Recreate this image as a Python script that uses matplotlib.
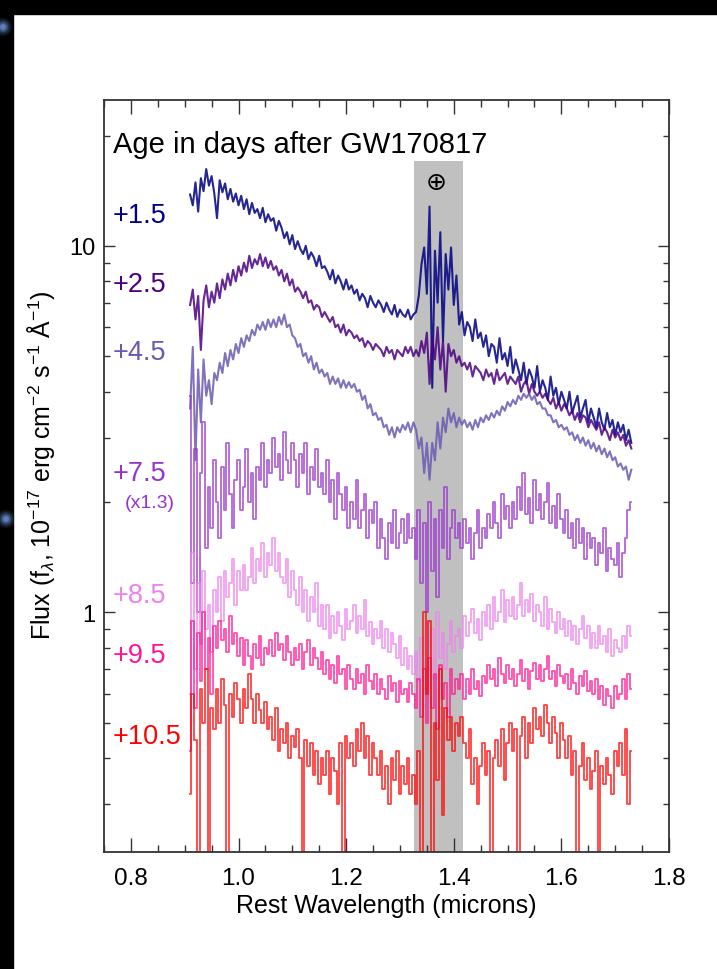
import numpy as np
import matplotlib
matplotlib.use('Agg')
from matplotlib import pyplot as plt
from matplotlib.ticker import MultipleLocator, FixedLocator, LogLocator, NullFormatter, FuncFormatter
from matplotlib.patches import Rectangle, Ellipse

plt.rcParams['font.family'] = ['Liberation Sans', 'DejaVu Sans']
plt.rcParams['mathtext.fontset'] = 'custom'
plt.rcParams['mathtext.rm'] = 'Liberation Sans'
plt.rcParams['mathtext.it'] = 'Liberation Sans:italic'
plt.rcParams['mathtext.sf'] = 'Liberation Sans'

# wavelength grid (microns), 0.005 bins from 0.91 to 1.73
wave = np.round(np.arange(0.910, 1.7301, 0.005), 3)

# flux, 1e-17 erg/cm2/s/A (10 bins per row)
flux_1p5 = [13.8, 12.9, 14.9, 12.4, 15.3, 14.1, 16.2, 14.6, 15.5, 13.9,
            11.9, 15.1, 14.0, 14.8, 13.4, 14.3, 13.2, 13.9, 12.9, 13.7,
            12.6, 13.4, 12.2, 13.1, 12.3, 12.6, 11.9, 12.7, 11.6, 12.2,
            11.7, 11.9, 11.0, 11.7, 11.2, 10.5, 10.9, 10.1, 10.7, 9.8,
            10.3, 9.8, 9.5, 10.0, 9.2, 9.6, 9.3, 8.8, 9.4, 8.7,
            8.8, 8.5, 8.1, 8.6, 7.9, 8.3, 8.0, 7.6, 8.1, 7.6,
            7.8, 7.4, 7.6, 7.1, 7.4, 7.2, 6.8, 7.3, 7.0, 6.8,
            7.1, 6.9, 6.6, 7.0, 6.7, 6.5, 6.9, 6.4, 6.7, 6.5,
            6.4, 6.7, 6.3, 6.5, 6.6, 7.3, 8.9, 9.9, 7.4, 12.8,
            4.1, 9.7, 7.0, 10.9, 5.5, 9.5, 7.6, 9.9, 6.9, 8.3,
            6.1, 6.6, 5.7, 6.2, 6.0, 5.5, 6.3, 5.6, 5.8, 5.3,
            5.7, 5.0, 5.4, 5.3, 4.8, 5.6, 4.9, 5.1, 4.7, 5.3,
            4.5, 4.9, 4.6, 4.3, 4.8, 4.2, 4.6, 4.4, 4.1, 4.7,
            4.0, 4.3, 4.1, 3.8, 4.4, 3.9, 4.1, 3.7, 4.0, 3.8,
            3.6, 4.0, 3.5, 3.7, 3.9, 3.4, 3.6, 3.8, 3.3, 3.6,
            3.4, 3.2, 3.6, 3.3, 3.15, 3.5, 3.2, 3.35, 3.05, 3.3,
            3.1, 3.25, 2.95, 3.15, 2.9]

flux_2p5 = [6.9, 7.6, 6.3, 7.3, 5.2, 7.1, 7.8, 6.8, 7.5, 7.0,
            7.9, 7.2, 8.1, 7.6, 8.4, 7.8, 8.6, 8.0, 8.8, 8.3,
            9.0, 8.5, 9.4, 8.7, 9.2, 8.9, 9.5, 8.8, 9.3, 8.7,
            9.1, 8.6, 8.8, 8.3, 8.6, 8.0, 8.4, 7.8, 8.1, 7.5,
            7.7, 7.5, 7.2, 7.5, 7.0, 7.1, 6.7, 6.9, 6.8, 6.4,
            6.6, 6.4, 6.2, 6.4, 6.0, 6.1, 5.8, 6.1, 5.7, 5.9,
            5.8, 5.6, 5.7, 5.5, 5.6, 5.3, 5.5, 5.4, 5.2, 5.4,
            5.3, 5.2, 5.0, 5.3, 5.1, 5.2, 4.9, 5.2, 5.1, 5.0,
            5.3, 5.1, 5.3, 5.0, 5.2, 5.0, 5.5, 5.1, 5.8, 4.2,
            5.6, 4.9, 6.0, 4.6, 5.5, 4.0, 5.4, 5.0, 5.2, 4.8,
            5.0, 4.7, 4.8, 4.6, 4.8, 4.4, 4.7, 4.6, 4.5, 4.3,
            4.6, 4.4, 4.5, 4.2, 4.6, 4.3, 4.4, 4.5, 4.2, 4.4,
            4.3, 4.2, 4.4, 4.0, 4.2, 4.3, 3.95, 4.2, 4.0, 3.9,
            4.0, 3.85, 3.95, 3.8, 3.7, 3.85, 3.6, 3.75, 3.55, 3.7,
            3.6, 3.45, 3.55, 3.35, 3.5, 3.3, 3.45, 3.4, 3.2, 3.35,
            3.25, 3.15, 3.3, 3.05, 3.2, 3.1, 2.95, 3.15, 3.0, 3.1,
            2.95, 3.05, 2.85, 2.95, 2.8]

flux_4p5 = [3.6, 5.3, 2.6, 4.6, 3.3, 4.9, 3.9, 4.3, 3.7, 4.5,
            4.3, 4.8, 4.5, 5.1, 4.7, 5.2, 4.9, 5.4, 5.1, 5.6,
            5.3, 5.7, 5.5, 5.9, 5.7, 6.1, 5.9, 6.2, 5.9, 6.3,
            6.0, 6.3, 6.0, 6.4, 6.1, 6.5, 6.0, 6.1, 5.7, 5.6,
            5.3, 5.4, 5.0, 5.1, 4.8, 5.0, 4.6, 4.8, 4.5, 4.6,
            4.4, 4.5, 4.2, 4.4, 4.2, 4.35, 4.1, 4.3, 4.1, 4.25,
            4.1, 4.2, 4.0, 4.05, 3.8, 3.9, 3.6, 3.7, 3.45, 3.5,
            3.35, 3.4, 3.2, 3.25, 3.05, 3.2, 3.0, 3.2, 3.1, 3.25,
            3.15, 3.3, 3.1, 3.3, 3.15, 2.8, 3.0, 2.4, 2.9, 2.3,
            2.9, 2.6, 3.3, 2.8, 3.4, 3.1, 3.6, 3.3, 3.5, 3.2,
            3.4, 3.25, 3.35, 3.2, 3.3, 3.15, 3.35, 3.2, 3.4, 3.3,
            3.45, 3.35, 3.5, 3.4, 3.55, 3.45, 3.65, 3.55, 3.75, 3.65,
            3.8, 3.7, 3.9, 3.8, 3.95, 3.85, 3.95, 3.8, 3.9, 3.7,
            3.75, 3.6, 3.6, 3.45, 3.45, 3.3, 3.35, 3.2, 3.25, 3.15,
            3.2, 3.05, 3.1, 2.95, 3.05, 2.9, 3.0, 2.85, 2.95, 2.8,
            2.9, 2.75, 2.85, 2.7, 2.8, 2.65, 2.75, 2.6, 2.65, 2.5,
            2.55, 2.45, 2.5, 2.3, 2.45]

# +7.5 d is shown multiplied by 1.3
flux_7p5 = [3.9, 1.2, 2.8, 1.0, 2.4, 3.3, 1.5, 2.2, 1.7, 2.6,
            2.0, 1.6, 2.5, 1.9, 2.9, 2.1, 1.7, 2.3, 2.6, 1.9,
            2.2, 2.8, 2.0, 2.4, 1.8, 2.5, 2.3, 2.9, 2.2, 2.6,
            2.4, 3.0, 2.5, 2.7, 2.3, 3.1, 2.6, 2.4, 2.9, 2.6,
            2.2, 2.7, 2.4, 2.9, 2.1, 2.5, 2.3, 2.8, 2.2, 2.4,
            2.1, 2.6, 2.0, 2.3, 1.8, 2.4, 2.1, 1.9, 2.2, 1.7,
            2.0, 1.8, 2.3, 1.7, 1.9, 2.1, 1.6, 1.9, 1.75, 2.0,
            1.5, 1.8, 1.6, 1.4, 1.75, 1.55, 1.9, 1.5, 1.65, 1.8,
            1.55, 1.85, 1.6, 1.7, 1.4, 1.9, 1.2, 1.75, 1.0, 2.0,
            1.3, 1.8, 1.1, 1.9, 1.5, 2.2, 1.4, 1.7, 1.9, 1.6,
            1.75, 1.5, 1.8, 1.55, 1.7, 1.4, 1.65, 1.9, 1.5, 1.7,
            1.6, 1.85, 1.7, 2.0, 1.75, 1.6, 2.1, 1.8, 1.95, 1.7,
            2.0, 1.8, 2.2, 1.9, 2.4, 1.85, 2.05, 1.75, 2.3, 1.9,
            2.1, 1.8, 2.0, 2.25, 1.75, 1.95, 1.7, 2.1, 1.8, 1.65,
            1.9, 1.6, 1.75, 1.5, 1.8, 1.55, 1.7, 1.4, 1.65, 1.5,
            1.6, 1.35, 1.55, 1.45, 1.7, 1.3, 1.5, 1.4, 1.35, 1.55,
            1.25, 1.45, 1.6, 1.9, 2.0]

flux_8p5 = [0.6, 1.45, 0.7, 1.2, 0.82, 1.3, 0.9, 1.05, 0.78, 1.15,
            1.0, 1.25, 0.95, 1.3, 1.1, 1.2, 1.4, 1.05, 1.3, 1.15,
            1.35, 1.15, 1.25, 1.5, 1.2, 1.4, 1.3, 1.55, 1.25, 1.45,
            1.35, 1.6, 1.3, 1.45, 1.25, 1.2, 1.4, 1.1, 1.3, 1.15,
            1.05, 1.25, 1.0, 1.15, 0.95, 1.1, 1.0, 1.2, 0.92, 1.05,
            0.9, 1.05, 0.85, 0.98, 0.88, 1.0, 0.92, 0.84, 1.02, 0.9,
            0.95, 1.05, 0.88, 0.98, 0.9, 1.08, 0.86, 0.94, 0.82, 0.9,
            0.85, 0.95, 0.8, 0.9, 0.78, 0.88, 0.82, 0.75, 0.86, 0.72,
            0.8, 0.7, 0.76, 0.68, 0.78, 0.65, 0.85, 0.62, 0.95, 0.7,
            0.9, 0.66, 1.0, 0.75, 0.88, 0.7, 0.82, 0.95, 0.78, 0.86,
            0.9, 0.8, 0.98, 0.86, 0.94, 1.02, 0.88, 0.96, 0.84, 1.0,
            0.92, 1.05, 0.9, 1.1, 0.95, 1.0, 1.15, 0.94, 1.08, 0.98,
            1.1, 0.96, 1.05, 1.2, 0.98, 1.08, 1.0, 1.12, 0.95, 1.05,
            1.0, 0.92, 1.1, 0.9, 1.02, 0.94, 0.88, 1.0, 0.9, 0.96,
            0.86, 0.95, 0.84, 0.92, 0.82, 0.9, 0.98, 0.85, 0.92, 0.8,
            0.88, 0.8, 0.92, 0.82, 0.86, 0.78, 0.9, 0.76, 0.84, 0.8,
            0.78, 0.86, 0.8, 0.92, 0.86]

flux_9p5 = [0.42, 0.95, 0.55, 0.88, 0.65, 1.0, 0.7, 0.85, 0.6, 0.92,
            0.8, 0.95, 0.84, 0.9, 0.78, 0.98, 0.82, 0.88, 0.76, 0.85,
            0.72, 0.84, 0.76, 0.7, 0.82, 0.75, 0.86, 0.72, 0.8, 0.77,
            0.84, 0.76, 0.88, 0.79, 0.82, 0.74, 0.86, 0.78, 0.72, 0.8,
            0.74, 0.82, 0.7, 0.78, 0.84, 0.72, 0.8, 0.75, 0.7, 0.78,
            0.68, 0.74, 0.66, 0.72, 0.64, 0.76, 0.68, 0.7, 0.62, 0.72,
            0.66, 0.62, 0.7, 0.64, 0.68, 0.6, 0.72, 0.65, 0.62, 0.68,
            0.6, 0.66, 0.62, 0.58, 0.67, 0.61, 0.64, 0.57, 0.65, 0.6,
            0.62, 0.57, 0.64, 0.6, 0.55, 0.66, 0.52, 0.7, 0.5, 0.75,
            0.55, 0.68, 0.48, 0.72, 0.58, 0.64, 0.52, 0.7, 0.6, 0.66,
            0.62, 0.68, 0.58, 0.66, 0.6, 0.7, 0.62, 0.65, 0.59, 0.67,
            0.64, 0.72, 0.66, 0.7, 0.63, 0.75, 0.68, 0.64, 0.72, 0.66,
            0.7, 0.63, 0.68, 0.74, 0.65, 0.7, 0.62, 0.69, 0.73, 0.66,
            0.72, 0.65, 0.7, 0.76, 0.66, 0.69, 0.63, 0.72, 0.67, 0.64,
            0.68, 0.62, 0.7, 0.64, 0.6, 0.67, 0.63, 0.69, 0.61, 0.65,
            0.6, 0.66, 0.58, 0.63, 0.56, 0.62, 0.59, 0.55, 0.63, 0.58,
            0.6, 0.66, 0.58, 0.68, 0.62]

flux_10p5 = [0.32, 0.6, 0.45, 0.15, 0.62, 0.5, 0.7, 0.15, 0.55, 0.48,
             0.62, 0.5, 0.66, 0.56, 0.15, 0.6, 0.52, 0.64, 0.58, 0.5,
             0.62, 0.55, 0.68, 0.58, 0.5, 0.6, 0.54, 0.5, 0.57, 0.48,
             0.52, 0.45, 0.55, 0.42, 0.48, 0.44, 0.5, 0.4, 0.46, 0.43,
             0.48, 0.4, 0.16, 0.45, 0.38, 0.44, 0.36, 0.42, 0.34, 0.4,
             0.36, 0.42, 0.32, 0.4, 0.37, 0.3, 0.44, 0.15, 0.46, 0.4,
             0.44, 0.38, 0.48, 0.42, 0.5, 0.4, 0.46, 0.36, 0.44, 0.4,
             0.36, 0.42, 0.33, 0.38, 0.3, 0.4, 0.35, 0.42, 0.32, 0.38,
             0.34, 0.4, 0.32, 0.36, 0.3, 0.42, 0.15, 1.0, 0.6, 0.95,
             0.15, 0.5, 0.35, 0.7, 0.28, 0.55, 0.45, 0.52, 0.42, 0.5,
             0.46, 0.52, 0.44, 0.4, 0.48, 0.34, 0.4, 0.3, 0.38, 0.44,
             0.36, 0.42, 0.15, 0.4, 0.45, 0.38, 0.48, 0.35, 0.44, 0.5,
             0.42, 0.48, 0.15, 0.46, 0.52, 0.4, 0.5, 0.44, 0.55, 0.48,
             0.52, 0.46, 0.56, 0.5, 0.44, 0.52, 0.47, 0.4, 0.5, 0.45,
             0.4, 0.46, 0.36, 0.42, 0.15, 0.38, 0.44, 0.35, 0.4, 0.33,
             0.37, 0.42, 0.16, 0.38, 0.34, 0.4, 0.36, 0.32, 0.42, 0.38,
             0.44, 0.36, 0.48, 0.3, 0.42]

epochs = ['+1.5', '+2.5', '+4.5', '+7.5', '+8.5', '+9.5', '+10.5']
colors = ['navy', 'indigo', '#6a5ab0', 'darkorchid', 'violet', 'deeppink', 'red']
spectra = [flux_1p5, flux_2p5, flux_4p5, flux_7p5, flux_8p5, flux_9p5, flux_10p5]
label_y = [0.838, 0.746, 0.656, 0.495, 0.332, 0.253, 0.1445]

telluric = (1.327, 1.417)

fig = plt.figure(figsize=(7.17, 9.70), dpi=100)
fig.patch.set_facecolor('white')
# dark frame of the screenshot
fig.patches.append(Rectangle((0, 1 - 15 / 970), 1, 15 / 970, transform=fig.transFigure,
                             color='black', zorder=0))
fig.patches.append(Rectangle((0, 0), 13 / 717, 1, transform=fig.transFigure,
                             color='black', zorder=0))
for cx, cy in [(3, 28), (6, 520)]:
    for r, a in [(9, 0.12), (7, 0.2), (5, 0.35), (3, 0.6)]:
        fig.patches.append(Ellipse((cx / 717, 1 - cy / 970), 2 * r / 717, 2 * r / 970,
                                   transform=fig.transFigure, color='#6f9ae0',
                                   alpha=a, zorder=1, lw=0))

ax = fig.add_axes([104 / 717, 117 / 970, 565 / 717, 752 / 970])
ax.set_yscale('log')

ax.axvspan(telluric[0], telluric[1], ymin=0, ymax=0.919, color='#c0c0c0', lw=0, zorder=0)

for i, (flux, col) in enumerate(zip(spectra, colors)):
    if i < 3:
        ax.plot(wave, flux, color=col, lw=1.5, alpha=0.85)
    else:
        ax.plot(wave, flux, color=col, lw=1.3, alpha=0.75, drawstyle='steps-mid')

for lab, col, y in zip(epochs, colors, label_y):
    ax.text(0.016, y, lab, color=col, fontsize=19.5, transform=ax.transAxes,
            ha='left', va='baseline')
ax.text(0.036, 0.459, '(x1.3)', color='darkorchid', fontsize=14,
        transform=ax.transAxes, ha='left', va='baseline')

ax.text(0.016, 0.931, 'Age in days after GW170817', fontsize=21,
        transform=ax.transAxes, ha='left', va='baseline')
ax.text(1.368, 0.8906, '\u2295', fontsize=18, family='DejaVu Sans',
        transform=ax.get_xaxis_transform(), ha='center', va='center')

ax.set_xlim(0.75, 1.8)
ax.set_ylim(0.222, 25)
ax.xaxis.set_major_locator(MultipleLocator(0.2))
ax.xaxis.set_minor_locator(MultipleLocator(0.05))
ax.xaxis.set_major_formatter(FuncFormatter(lambda v, p: f'{v:.1f}'))
ax.yaxis.set_major_locator(FixedLocator([1, 10]))
ax.yaxis.set_major_formatter(FuncFormatter(lambda v, p: f'{v:g}'))
ax.yaxis.set_minor_locator(LogLocator(subs=range(2, 10)))
ax.yaxis.set_minor_formatter(NullFormatter())

ax.tick_params(which='both', direction='in', top=True, right=True, width=1.0, color='#333333')
ax.tick_params(axis='x', which='major', length=10, pad=11, labelsize=17.5)
ax.tick_params(axis='x', which='minor', length=5)
ax.tick_params(axis='y', which='major', length=8, pad=6, labelsize=17)
ax.tick_params(axis='y', which='minor', length=4.5)
for s in ax.spines.values():
    s.set_linewidth(1.3)
    s.set_color('#333333')

ax.set_xlabel('Rest Wavelength (microns)', fontsize=18, labelpad=3)
fig.text(41 / 717, 1 - 465 / 970,
         'Flux (f$_\\lambda$, 10$^{-17}$ erg cm$^{-2}$ s$^{-1}$ \u00c5$^{-1}$)',
         rotation=90, fontsize=18, ha='center', va='center')

fig.savefig('out.png', dpi=100)
